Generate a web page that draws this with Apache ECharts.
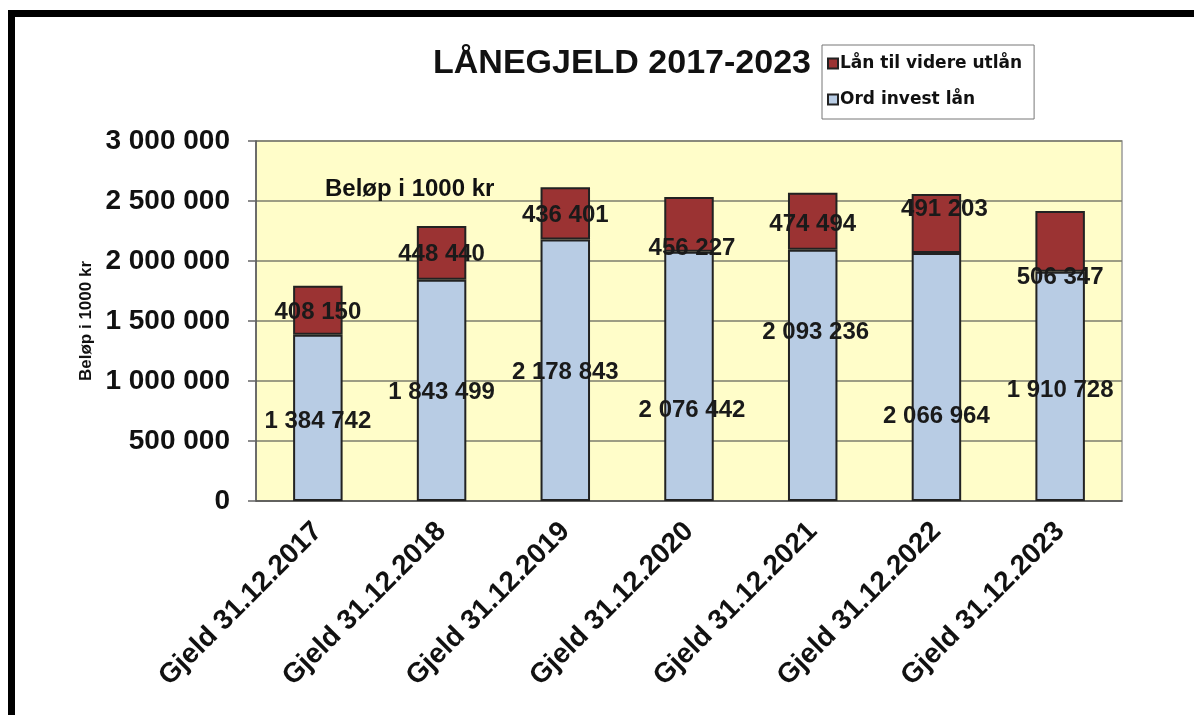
<!DOCTYPE html>
<html>
<head>
<meta charset="utf-8">
<script src="https://cdn.jsdelivr.net/npm/echarts@6/dist/echarts.min.js"></script>
<style>
  html, body { margin: 0; padding: 0; background: #fff; }
  #chart { width: 1194px; height: 715px; }
</style>
</head>
<body>
<div id="chart"></div>
<script>
// kategorier og verdier (beløp i 1000 kr)
const years = ['Gjeld 31.12.2017', 'Gjeld 31.12.2018', 'Gjeld 31.12.2019', 'Gjeld 31.12.2020',
  'Gjeld 31.12.2021', 'Gjeld 31.12.2022', 'Gjeld 31.12.2023'];
const ordInvest = [1384742, 1843499, 2178843, 2076442, 2093236, 2066964, 1910728];
const videreUtlan = [408150, 448440, 436401, 456227, 474494, 491203, 506347];

// etiketter flyttet manuelt i originalen
const nudgeBlue = [[0, 3], [0, 2], [0, 2], [3, 34], [3, -43], [0, 39], [0, 4]];
const nudgeRed = [[0, 2], [0, 2], [0, 2], [3, 24], [0, 3], [8, -14], [0, 36]];

const FONT = '"Liberation Sans", Arial, sans-serif';
const fmt = v => String(v).replace(/\B(?=(\d{3})+(?!\d))/g, ' ');

const chart = echarts.init(document.getElementById('chart'));

const labelBase = {
  show: true,
  position: 'inside',
  color: '#1a1a1a',
  fontSize: 24,
  fontWeight: 'bold',
  fontFamily: FONT,
  formatter: p => fmt(p.value)
};

chart.setOption({
  animation: false,
  backgroundColor: '#fff',
  title: [{
    text: 'LÅNEGJELD 2017-2023',
    left: 428, top: 42,
    textStyle: { fontSize: 34, fontWeight: 'bold', color: '#111', fontFamily: FONT }
  }, {
    text: 'Beløp i 1000 kr',
    left: 320, top: 172,
    textStyle: { fontSize: 24, fontWeight: 'bold', color: '#111', fontFamily: FONT }
  }],
  legend: {
    orient: 'vertical',
    left: 822, top: 45,
    padding: [10, 12, 11, 5],
    itemGap: 19,
    itemWidth: 10, itemHeight: 10,
    icon: 'rect',
    borderColor: '#777', borderWidth: 1,
    backgroundColor: '#fff',
    data: ['Lån til videre utlån', 'Ord invest lån'],
    textStyle: { fontSize: 17, fontWeight: 'bold', color: '#111', fontFamily: '"DejaVu Sans", Verdana, sans-serif', padding: [0, 0, 0, -3] }
  },
  grid: {
    left: 256, right: 72, top: 141, bottom: 214,
    show: true,
    backgroundColor: '#FFFDC9',
    borderColor: '#9a9a9a', borderWidth: 1.5
  },
  xAxis: {
    type: 'category',
    data: years,
    axisLine: { lineStyle: { color: '#555', width: 1.5 } },
    axisTick: { length: 7, lineStyle: { color: '#666', width: 1.5 } },
    axisLabel: {
      interval: 0, rotate: 45, margin: 26,
      fontSize: 28, fontWeight: 'bold', color: '#111', fontFamily: FONT
    }
  },
  yAxis: {
    type: 'value',
    min: 0, max: 3000000, interval: 500000,
    name: 'Beløp i 1000 kr',
    nameLocation: 'middle',
    nameGap: 160,
    nameTextStyle: { fontSize: 17, fontWeight: 'bold', color: '#111', fontFamily: FONT },
    axisLine: { show: true, lineStyle: { color: '#555', width: 1.5 } },
    axisTick: { show: true, length: 8, lineStyle: { color: '#666', width: 1.5 } },
    axisLabel: {
      margin: 26,
      fontSize: 28, fontWeight: 'bold', color: '#111', fontFamily: FONT,
      formatter: v => fmt(v)
    },
    splitLine: { lineStyle: { color: '#7d7d6c', width: 1.5 } }
  },
  series: [{
    name: 'Ord invest lån',
    type: 'bar',
    stack: 'gjeld',
    barWidth: '40%',
    itemStyle: { color: '#B8CCE4', borderColor: '#222', borderWidth: 2 },
    data: ordInvest.map((v, i) => ({ value: v, label: { ...labelBase, offset: nudgeBlue[i] } }))
  }, {
    name: 'Lån til videre utlån',
    type: 'bar',
    stack: 'gjeld',
    barWidth: '40%',
    itemStyle: { color: '#9B3333', borderColor: '#222', borderWidth: 2 },
    data: videreUtlan.map((v, i) => ({ value: v, label: { ...labelBase, offset: nudgeRed[i] } }))
  }],
  graphic: [
    // svart ramme oppe og til venstre
    { type: 'rect', shape: { x: 8, y: 10, width: 1200, height: 7 }, style: { fill: '#000' }, z: 100 },
    { type: 'rect', shape: { x: 8, y: 10, width: 7, height: 720 }, style: { fill: '#000' }, z: 100 }
  ]
});
</script>
</body>
</html>
